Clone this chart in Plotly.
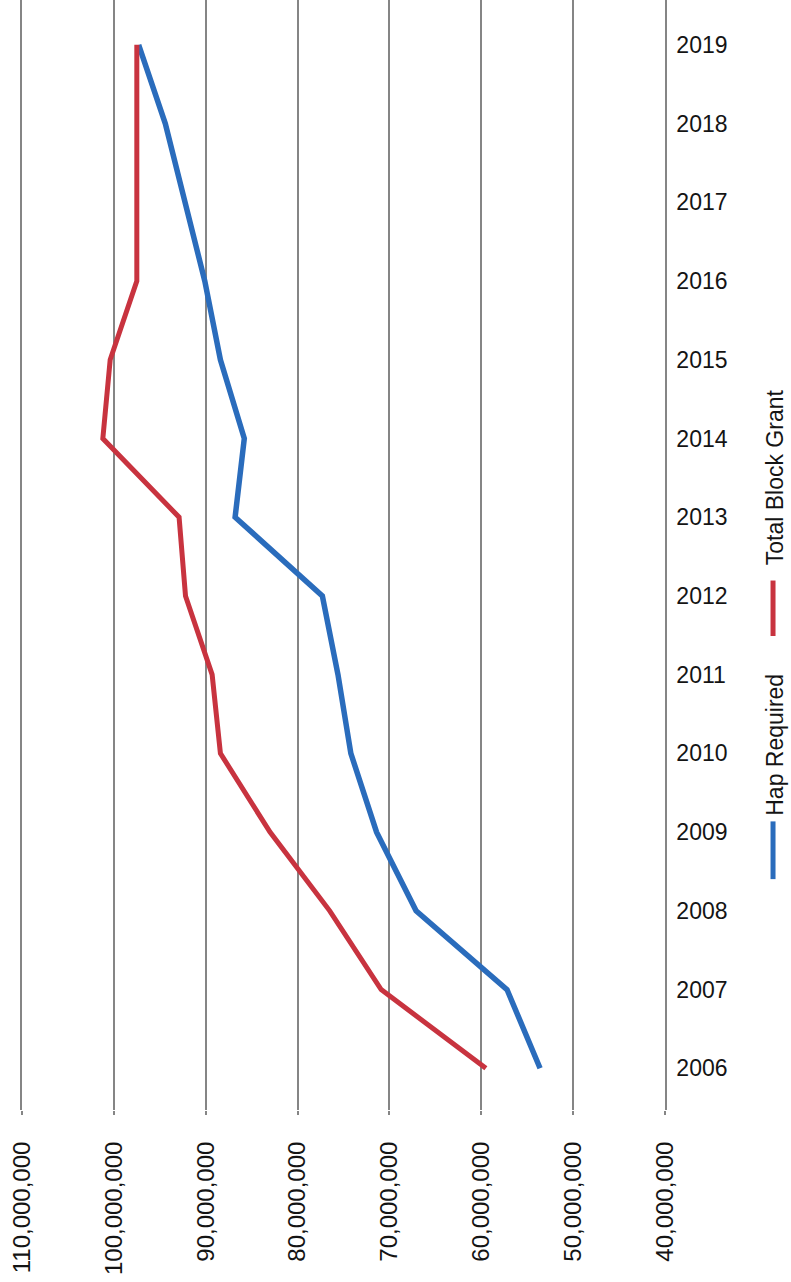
import plotly.graph_objects as go

years = [2006, 2007, 2008, 2009, 2010, 2011, 2012, 2013, 2014, 2015, 2016, 2017, 2018, 2019]
hap_required = [53.6e6, 57.2e6, 67.1e6, 71.4e6, 74.2e6, 75.6e6, 77.3e6, 86.8e6, 85.8e6, 88.4e6, 90.1e6, 92.2e6, 94.4e6, 97.3e6]
total_block_grant = [59.5e6, 70.9e6, 76.5e6, 83.0e6, 88.4e6, 89.3e6, 92.2e6, 92.9e6, 101.2e6, 100.4e6, 97.5e6, 97.5e6, 97.5e6, 97.5e6]
value_ticks = [110e6, 100e6, 90e6, 80e6, 70e6, 60e6, 50e6, 40e6]
series_names = ["Hap Required", "Total Block Grant"]

BLUE = "#2a6cbc"
RED = "#c8333f"
FONT = "Liberation Sans"
TXT = "#141414"
GRID = "#858585"

fig = go.Figure()
fig.add_trace(go.Scatter(x=hap_required, y=years, mode="lines", name=series_names[0],
                         line=dict(color=BLUE, width=5.5)))
fig.add_trace(go.Scatter(x=total_block_grant, y=years, mode="lines", name=series_names[1],
                         line=dict(color=RED, width=5)))

fig.update_layout(
    width=791, height=1282,
    margin=dict(l=22, r=126, t=0, b=172),
    paper_bgcolor="white", plot_bgcolor="white",
    showlegend=False,
    font=dict(family=FONT, color=TXT, size=23),
)
fig.update_xaxes(
    range=[110e6, 40e6], tickvals=value_ticks, tickformat=",d",
    tickangle=-90, showgrid=True, gridcolor=GRID, gridwidth=1.5,
    ticks="outside", ticklen=4, tickcolor=GRID, tickwidth=1.5,
    ticklabelstandoff=17,
    showline=False, zeroline=False,
    tickfont=dict(family=FONT, size=24, color=TXT),
)
fig.update_yaxes(
    range=[2005.47, 2019.57], tickvals=years, side="right",
    showgrid=False, zeroline=False, showline=True, mirror=True,
    linecolor=GRID, linewidth=1.5,
    ticks="", ticklabelstandoff=5,
    tickfont=dict(family=FONT, size=23, color=TXT),
)

# rotated legend on the right
fig.add_annotation(xref="paper", yref="paper", x=1.171, y=0.329, text=series_names[0],
                   xanchor="center", yanchor="middle",
                   textangle=-90, showarrow=False, font=dict(family=FONT, size=23, color=TXT))
fig.add_annotation(xref="paper", yref="paper", x=1.171, y=0.570, text=series_names[1],
                   xanchor="center", yanchor="middle",
                   textangle=-90, showarrow=False, font=dict(family=FONT, size=23, color=TXT))
fig.add_shape(type="line", xref="paper", yref="paper", x0=1.168, x1=1.168, y0=0.208, y1=0.260,
              line=dict(color=BLUE, width=5))
fig.add_shape(type="line", xref="paper", yref="paper", x0=1.168, x1=1.168, y0=0.427, y1=0.477,
              line=dict(color=RED, width=5))

fig.write_html("out.html")
